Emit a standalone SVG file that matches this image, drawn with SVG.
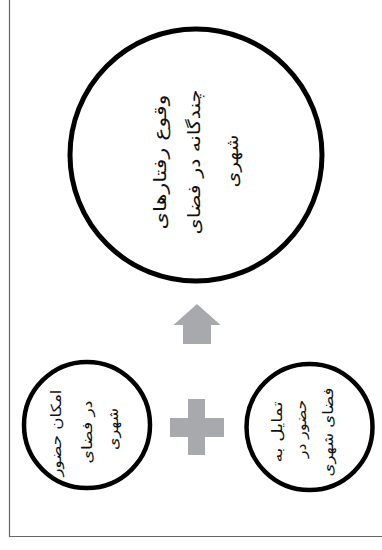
<svg xmlns="http://www.w3.org/2000/svg" width="382" height="550" viewBox="0 0 382 550">
<style>
.node{fill:#fff;stroke:#000}
.big{stroke-width:5}
.small{stroke-width:4.5}
.t{font-family:"DejaVu Sans",sans-serif;fill:#111;text-anchor:middle}
.tb{font-size:17px}
.ts{font-size:14px}
.sym{fill:#a7a9ac}
.frame{stroke:#666;stroke-width:1.2;fill:none}
</style>
<rect width="382" height="550" fill="#fff"/>
<path class="frame" d="M9.5 0V536.5H382"/>
<g id="connectors">
<polygon class="sym" points="197,304 220.5,325 211,325 211,344 183,344 183,325 173.5,325"/>
<path class="sym" d="M188 399H205V418H224V437H205V455H188V437H170V418H188Z"/>
</g>
<g id="node-outcome">
<circle class="node big" cx="196" cy="155" r="126"/>
<text class="t tb" transform="translate(166,162) rotate(-90)" textLength="135" lengthAdjust="spacingAndGlyphs">وقوع رفتارهای</text>
<text class="t tb" transform="translate(200,162) rotate(-90)" textLength="145" lengthAdjust="spacingAndGlyphs">چندگانه در فضای</text>
<text class="t tb" transform="translate(238,161) rotate(-90)" textLength="53" lengthAdjust="spacingAndGlyphs">شهری</text>
</g>
<g id="node-possibility">
<circle class="node small" cx="87" cy="425" r="63"/>
<text class="t ts" transform="translate(61,433) rotate(-90)" textLength="87" lengthAdjust="spacingAndGlyphs">امکان حضور</text>
<text class="t ts" transform="translate(92,432) rotate(-90)" textLength="63" lengthAdjust="spacingAndGlyphs">در فضای</text>
<text class="t ts" transform="translate(118,429) rotate(-90)" textLength="42" lengthAdjust="spacingAndGlyphs">شهری</text>
</g>
<g id="node-desire">
<circle class="node small" cx="309.5" cy="427" r="63"/>
<text class="t ts" transform="translate(282,432) rotate(-90)" textLength="61" lengthAdjust="spacingAndGlyphs">تمایل به</text>
<text class="t ts" transform="translate(306,429) rotate(-90)" textLength="58" lengthAdjust="spacingAndGlyphs">حضور در</text>
<text class="t ts" transform="translate(333,432) rotate(-90)" textLength="89" lengthAdjust="spacingAndGlyphs">فضای شهری</text>
</g>
</svg>
